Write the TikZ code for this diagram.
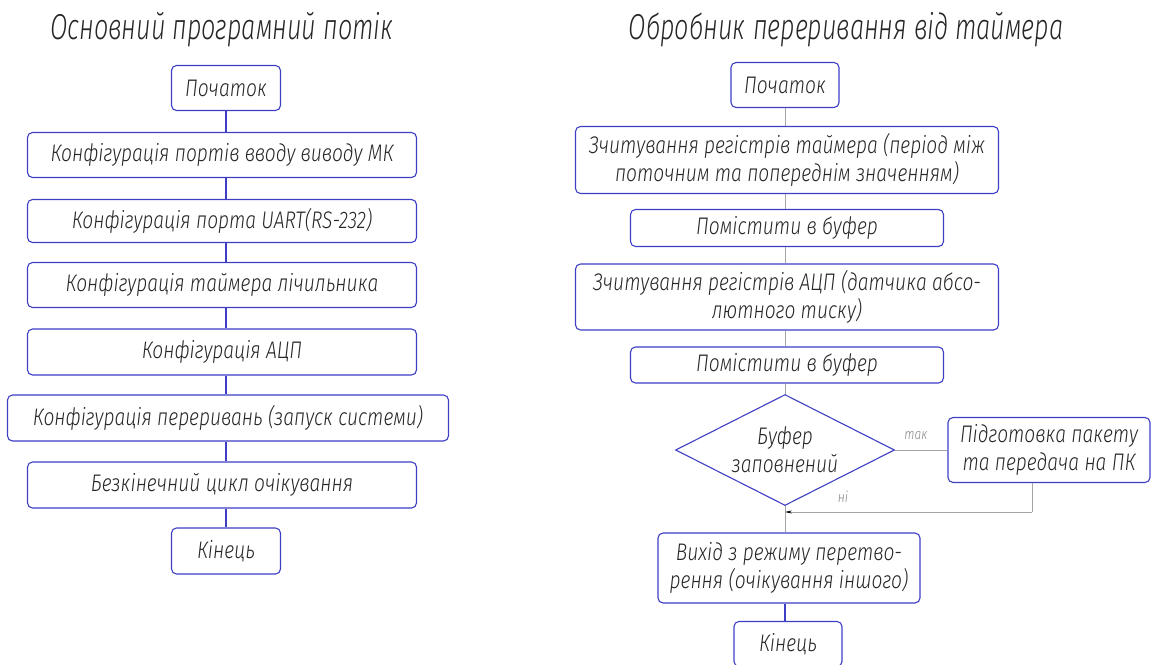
\documentclass[tikz,border=0pt]{standalone}
\usepackage{fontspec}
\setmainfont{Fira Sans Light}[ItalicFont={Fira Sans Light Italic}, FakeStretch=0.8]
\newfontfamily\headfont{Fira Sans Light Italic}[FakeStretch=0.7]
\usepackage{tikz}
\usetikzlibrary{arrows.meta}
\usetikzlibrary{shapes.geometric}

\definecolor{boxblue}{RGB}{62,62,196}
\definecolor{linkgray}{RGB}{165,165,165}
\definecolor{inkgray}{RGB}{38,38,38}

\tikzset{
	box/.style={draw=boxblue, line width=1.1pt, rounded corners=5pt, align=center,
		text=inkgray, font=\itshape\fontsize{24}{28}\selectfont, inner sep=0pt},
	decision/.style={draw=boxblue, line width=1.1pt, diamond, aspect=2, align=center,
		text=inkgray, font=\itshape\fontsize{24}{28}\selectfont, inner sep=0pt},
	title/.style={text=inkgray, font=\headfont\fontsize{36}{40}\selectfont},
	bluelink/.style={draw=boxblue, line width=1.1pt},
	graylink/.style={draw=linkgray, line width=0.7pt},
	branch/.style={text=linkgray!80!black, font=\itshape\fontsize{15}{17}\selectfont}
}

\begin{document}
\begin{tikzpicture}[x=1pt, y=-1pt, >=Stealth]
		\useasboundingbox (0,0) rectangle (1151,664);
		
		% Main program flow
		\node[title] (mainTitle) at (222,30) {Основний програмний потік};
		\node[box, minimum width=109pt, minimum height=45pt] (mStart) at (226,88) {Початок};
		\node[box, minimum width=389pt, minimum height=45pt] (mPorts) at (222,155) {Конфігурація портів вводу виводу МК};
		\node[box, minimum width=389pt, minimum height=43pt] (mUart) at (222,221) {Конфігурація порта UART(RS-232)};
		\node[box, minimum width=389pt, minimum height=45pt] (mTimer) at (222,285) {Конфігурація таймера лічильника};
		\node[box, minimum width=389pt, minimum height=46pt] (mAdc) at (222,352) {Конфігурація АЦП};
		\node[box, minimum width=441pt, minimum height=46pt] (mIrq) at (228,418) {Конфігурація переривань (запуск системи)};
		\node[box, minimum width=389pt, minimum height=46pt] (mLoop) at (222,485) {Безкінечний цикл очікування};
		\node[box, minimum width=109pt, minimum height=46pt] (mEnd) at (226,551) {Кінець};
		
		\foreach \a/\b in {mStart/mPorts, mPorts/mUart, mUart/mTimer, mTimer/mAdc, mAdc/mIrq, mIrq/mLoop, mLoop/mEnd}
			\draw[bluelink] (\a.south -| mStart.south) -- (\b.north -| mStart.south);
		
		% Timer interrupt handler
		\node[title] (isrTitle) at (846,30) {Обробник переривання від таймера};
		\node[box, minimum width=108pt, minimum height=45pt] (iStart) at (785,85) {Початок};
		\node[box, minimum width=423pt, minimum height=67pt] (iTimer) at (787,160) {Зчитування регістрів таймера (період між\\поточним та попереднім значенням)};
		\node[box, minimum width=313pt, minimum height=37pt] (iBufA) at (787,228) {Помістити в буфер};
		\node[box, minimum width=423pt, minimum height=66pt] (iAdc) at (787,297) {Зчитування регістрів АЦП (датчика абсо-\\лютного тиску)};
		\node[box, minimum width=313pt, minimum height=36pt] (iBufB) at (787,365) {Помістити в буфер};
		\node[decision, minimum width=219pt, minimum height=111pt] (iFull) at (785,450) {Буфер\\заповнений};
		\node[box, minimum width=202pt, minimum height=65pt] (iSend) at (1049,450) {Підготовка пакету\\та передача на ПК};
		\node[box, minimum width=262pt, minimum height=70pt] (iExit) at (789,568) {Вихід з режиму перетво-\\рення (очікування іншого)};
		\node[box, minimum width=108pt, minimum height=45pt] (iEnd) at (788,644) {Кінець};
		
		\foreach \a/\b in {iStart/iTimer, iTimer/iBufA, iBufA/iAdc, iAdc/iBufB, iBufB/iFull, iFull/iExit}
			\draw[graylink] (\a.south -| iFull.south) -- (\b.north -| iFull.south);
		\draw[bluelink] (iExit.south -| iFull.south) -- (iEnd.north -| iFull.south);
		
		% Branches
		\draw[graylink] (iFull.east) -- (iSend.west);
		\node[branch] (yesLabel) at (916,436) {так};
		\coordinate (iTurn) at (1032,512);
		\draw[graylink] (iSend.south -| iTurn) -- (iTurn);
		\draw[graylink, -{Stealth[black, length=7pt, width=3pt]}] (iTurn) -- (iTurn -| iFull.south);
		\node[branch] (noLabel) at (843,497) {ні};
		
	\end{tikzpicture}
\end{document}
